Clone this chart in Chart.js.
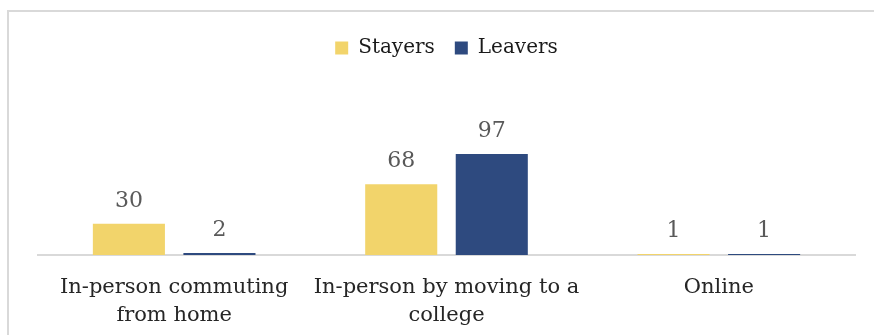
<!DOCTYPE html>
<html>
<head>
<meta charset="utf-8">
<script src="https://cdn.jsdelivr.net/npm/chart.js@4/dist/chart.umd.min.js"></script>
<style>
  html, body { margin: 0; padding: 0; background: #ffffff; overflow: hidden; }
  canvas { display: block; }
</style>
</head>
<body>
<canvas id="c" width="874" height="335"></canvas>
<script>
const categories = [["In-person commuting", "from home"], ["In-person by moving to a", "college"], ["Online"]];
const seriesNames = ["Stayers", "Leavers"];
const stayers = [30, 68, 1];
const leavers = [2, 97, 1];
const yMin = 0;
const yMax = 120;

const serif = "'DejaVu Serif', Georgia, serif";

const frame = {
  id: 'frame',
  beforeDraw(chart) {
    const ctx = chart.ctx;
    ctx.save();
    ctx.strokeStyle = '#d9d9d9';
    ctx.lineWidth = 2;
    ctx.beginPath();
    ctx.moveTo(8, chart.height + 5);
    ctx.lineTo(8, 11);
    ctx.lineTo(chart.width + 5, 11);
    ctx.stroke();
    ctx.restore();
  }
};

const valueLabels = {
  id: 'valueLabels',
  afterDatasetsDraw(chart) {
    const ctx = chart.ctx;
    ctx.save();
    ctx.font = "22px " + serif;
    ctx.fillStyle = '#595959';
    ctx.textAlign = 'center';
    ctx.textBaseline = 'alphabetic';
    chart.data.datasets.forEach((ds, i) => {
      chart.getDatasetMeta(i).data.forEach((bar, j) => {
        ctx.fillText(String(ds.data[j]), bar.x, bar.y - 17);
      });
    });
    ctx.restore();
  }
};

new Chart(document.getElementById('c'), {
  type: 'bar',
  data: {
    labels: categories,
    datasets: [
      { label: seriesNames[0], data: stayers, backgroundColor: '#F2D46B', categoryPercentage: 0.665, barPercentage: 0.796 },
      { label: seriesNames[1], data: leavers, backgroundColor: '#2E4A7F', categoryPercentage: 0.665, barPercentage: 0.796 }
    ]
  },
  options: {
    responsive: false,
    animation: false,
    layout: { padding: { left: 38, right: 19, top: 18, bottom: 0 } },
    plugins: {
      legend: {
        position: 'top',
        labels: {
          boxWidth: 13, boxHeight: 13, padding: 20,
          color: '#1a1a1a',
          font: { family: serif, size: 20 }
        }
      },
      title: {
        display: true, text: '', weight: 500,
        font: { size: 1, lineHeight: 1 },
        padding: { top: 0, bottom: 61 }
      },
      tooltip: { enabled: false }
    },
    scales: {
      x: {
        grid: { display: false, drawTicks: false },
        border: { display: true, color: '#d9d9d9', width: 2 },
        ticks: { color: '#262626', font: { family: serif, size: 21, lineHeight: 1.33 }, padding: 19, maxRotation: 0, autoSkip: false },
        afterFit(scale) { scale.height = 80; }
      },
      y: {
        display: false,
        min: yMin, max: yMax
      }
    }
  },
  plugins: [frame, valueLabels]
});
</script>
</body>
</html>
